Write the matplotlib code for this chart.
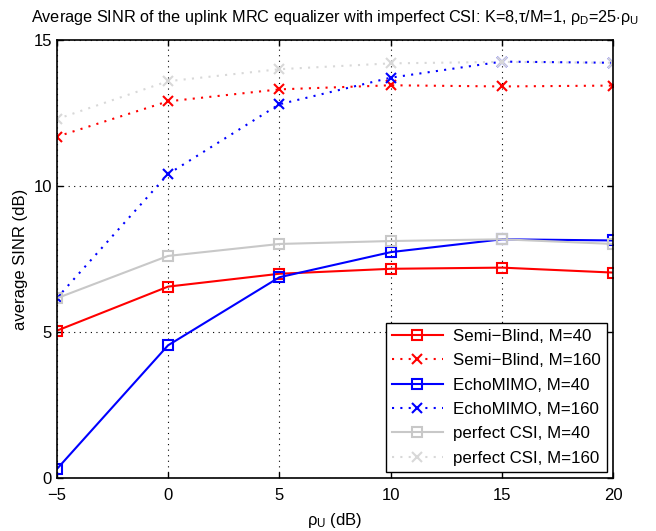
import matplotlib
matplotlib.use("Agg")
import matplotlib.pyplot as plt

plt.rcParams['font.family'] = ['Liberation Sans', 'DejaVu Sans']
plt.rcParams['mathtext.fontset'] = 'custom'
plt.rcParams['mathtext.rm'] = 'Liberation Sans'
plt.rcParams['mathtext.it'] = 'Liberation Sans'

rho_u = [-5, 0, 5, 10, 15, 20]
semi_blind_40 = [5.05, 6.56, 7.00, 7.17, 7.21, 7.04]
semi_blind_160 = [11.69, 12.90, 13.31, 13.45, 13.41, 13.44]
echo_40 = [0.31, 4.55, 6.88, 7.74, 8.18, 8.14]
echo_160 = [6.16, 10.41, 12.80, 13.71, 14.26, 14.22]
perfect_40 = [6.16, 7.61, 8.02, 8.12, 8.18, 8.02]
perfect_160 = [12.29, 13.59, 14.00, 14.20, 14.25, 14.22]

labels = ["Semi\u2212Blind, M=40", "Semi\u2212Blind, M=160",
          "EchoMIMO, M=40", "EchoMIMO, M=160",
          "perfect CSI, M=40", "perfect CSI, M=160"]
xticks = [-5, 0, 5, 10, 15, 20]
yticks = [0, 5, 10, 15]

fig = plt.figure(figsize=(6.56, 5.31), dpi=100)
ax = fig.add_axes([0.0864, 0.0992, 0.8486, 0.8255])

gray = '#c8c8c8'
lgray = '#d8d8d8'
dot = (0, (1, 3))
series = [
    (semi_blind_40, 'red', '-', 's'),
    (semi_blind_160, 'red', dot, 'x'),
    (echo_40, 'blue', '-', 's'),
    (echo_160, 'blue', dot, 'x'),
    (perfect_40, gray, '-', 's'),
    (perfect_160, lgray, dot, 'x'),
]
for (vals, c, ls, m), lab in zip(series, labels):
    ax.plot(rho_u, vals, color=c, linestyle=ls, marker=m, markersize=7,
            markerfacecolor='none', markeredgecolor=c, markeredgewidth=1.5,
            linewidth=1.5, label=lab)

ax.set_xlim(-5, 20)
ax.set_ylim(0, 15)
ax.set_xticks(xticks)
ax.set_yticks(yticks)
ax.set_xticklabels([str(t).replace('-', '\u2212') for t in xticks])
ax.tick_params(direction='in', labelsize=12, length=4, width=1, top=True, right=True)
ax.tick_params(axis='x', pad=7)
ax.grid(True, color='black', linestyle=(0, (1, 4)), linewidth=0.8)
for s in ax.spines.values():
    s.set_linewidth(1.2)

ax.set_xlabel(r'$\rho_\mathrm{U}$ (dB)', fontsize=12, labelpad=6)
ax.set_ylabel('average SINR (dB)', fontsize=12)
ax.set_title(r'Average SINR of the uplink MRC equalizer with imperfect CSI: K=8,$\tau$/M=1, $\rho_\mathrm{D}$=25$\cdot\rho_\mathrm{U}$',
             fontsize=11.7, pad=13)

leg = ax.legend(loc='lower right', fontsize=12.2, frameon=True, fancybox=False,
                edgecolor='black', framealpha=1, handlelength=3.0,
                labelspacing=0.55, borderaxespad=0.4, borderpad=0.35,
                handletextpad=0.6)
leg.get_frame().set_linewidth(1.0)

fig.savefig('out.png', dpi=100)
